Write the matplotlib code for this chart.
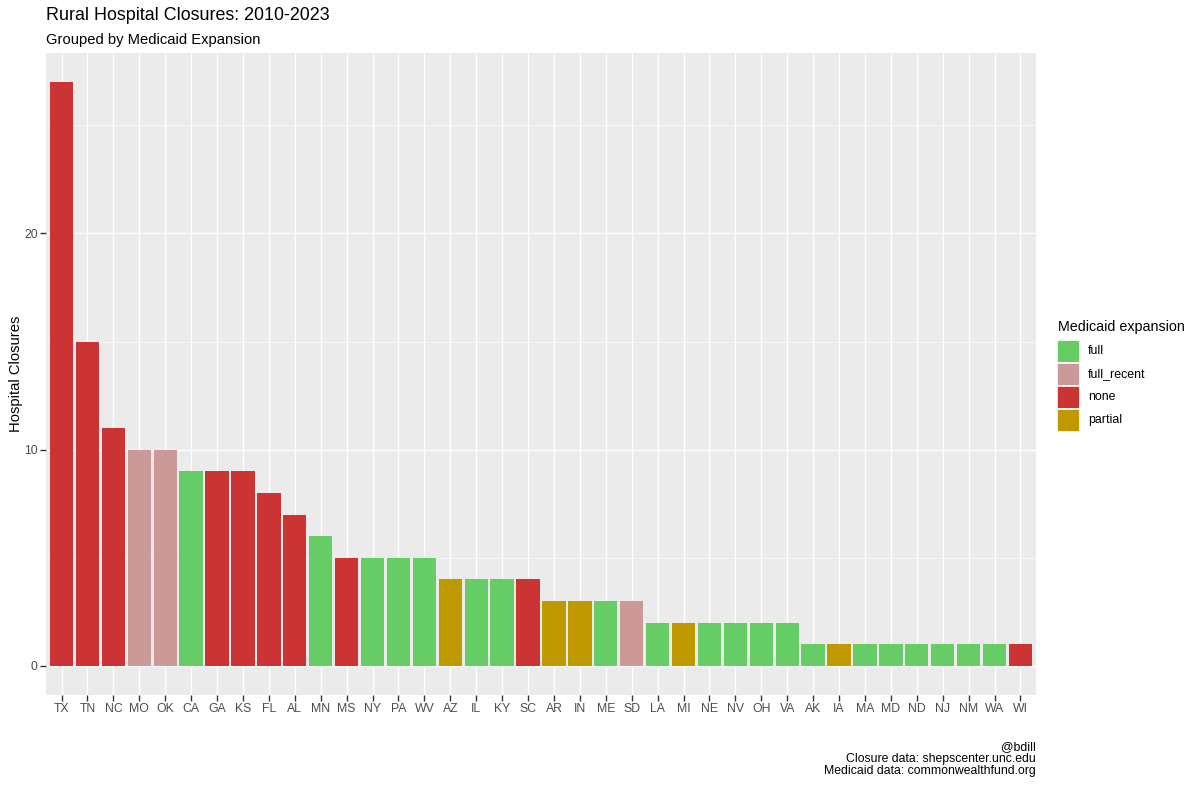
import matplotlib.pyplot as plt
from matplotlib.patches import Rectangle
from matplotlib.ticker import MultipleLocator

plt.rcParams["font.family"] = ["Liberation Sans", "DejaVu Sans"]

states = ["TX", "TN", "NC", "MO", "OK", "CA", "GA", "KS", "FL", "AL",
          "MN", "MS", "NY", "PA", "WV", "AZ", "IL", "KY", "SC", "AR",
          "IN", "ME", "SD", "LA", "MI", "NE", "NV", "OH", "VA", "AK",
          "IA", "MA", "MD", "ND", "NJ", "NM", "WA", "WI"]
closures = [27, 15, 11, 10, 10, 9, 9, 9, 8, 7,
            6, 5, 5, 5, 5, 4, 4, 4, 4, 3,
            3, 3, 3, 2, 2, 2, 2, 2, 2, 1,
            1, 1, 1, 1, 1, 1, 1, 1]
expansion = ["none", "none", "none", "full_recent", "full_recent", "full", "none", "none", "none", "none",
             "full", "none", "full", "full", "full", "partial", "full", "full", "none", "partial",
             "partial", "full", "full_recent", "full", "partial", "full", "full", "full", "full", "full",
             "partial", "full", "full", "full", "full", "full", "full", "none"]

groups = ["full", "full_recent", "none", "partial"]
colors = {"full": "#66CC66", "full_recent": "#CC9999", "none": "#CC3333", "partial": "#BF9900"}

W, H = 1200, 785
fig = plt.figure(figsize=(W / 100, H / 100), dpi=100)
ax = fig.add_axes([46 / W, 1 - 695 / H, (1036 - 46) / W, (695 - 53) / H])
ax.set_facecolor("#EBEBEB")

x = list(range(len(states)))
ax.bar(x, closures, width=0.9, color=[colors[e] for e in expansion], zorder=3)

ax.set_xlim(-0.6, len(states) - 0.4)
top = max(closures)
ax.set_ylim(-0.05 * top, top * 1.05)
ax.set_xticks(x)
ax.set_xticklabels(states)
ax.yaxis.set_major_locator(MultipleLocator(10))
ax.yaxis.set_minor_locator(MultipleLocator(5))
ax.grid(which="major", color="white", linewidth=1.0, zorder=0)
ax.grid(which="minor", axis="y", color="white", linewidth=0.5, zorder=0)
ax.tick_params(which="major", length=4, width=1, color="#333333",
               labelcolor="#4D4D4D", labelsize=8.8, pad=2)
ax.tick_params(which="minor", length=0)
for s in ax.spines.values():
    s.set_visible(False)
ax.set_ylabel("Hospital Closures", fontsize=10.6, labelpad=1)

fig.text(46 / W, 1 - 16 / H, "Rural Hospital Closures: 2010-2023", fontsize=12.9,
         ha="left", va="center")
fig.text(46 / W, 1 - 40 / H, "Grouped by Medicaid Expansion", fontsize=10.6,
         ha="left", va="center")
fig.text(1036 / W, 1 - 741 / H,
         "@bdill\nClosure data: shepscenter.unc.edu\nMedicaid data: commonwealthfund.org",
         fontsize=8.8, ha="right", va="top", linespacing=1.0)

# legend drawn by hand to match ggplot key boxes
fig.text(1058 / W, 1 - 327 / H, "Medicaid expansion", fontsize=10.3, ha="left", va="center")
key_top, key_size = 340, 23
for i, g in enumerate(groups):
    y0 = key_top + i * key_size
    fig.add_artist(Rectangle((1057 / W, 1 - (y0 + key_size) / H), key_size / W, key_size / H,
                             transform=fig.transFigure, facecolor=colors[g],
                             edgecolor="white", linewidth=1.2))
    fig.text(1088 / W, 1 - (y0 + key_size / 2) / H, g, fontsize=8.9, ha="left", va="center")

fig.savefig("out.png", dpi=100)
